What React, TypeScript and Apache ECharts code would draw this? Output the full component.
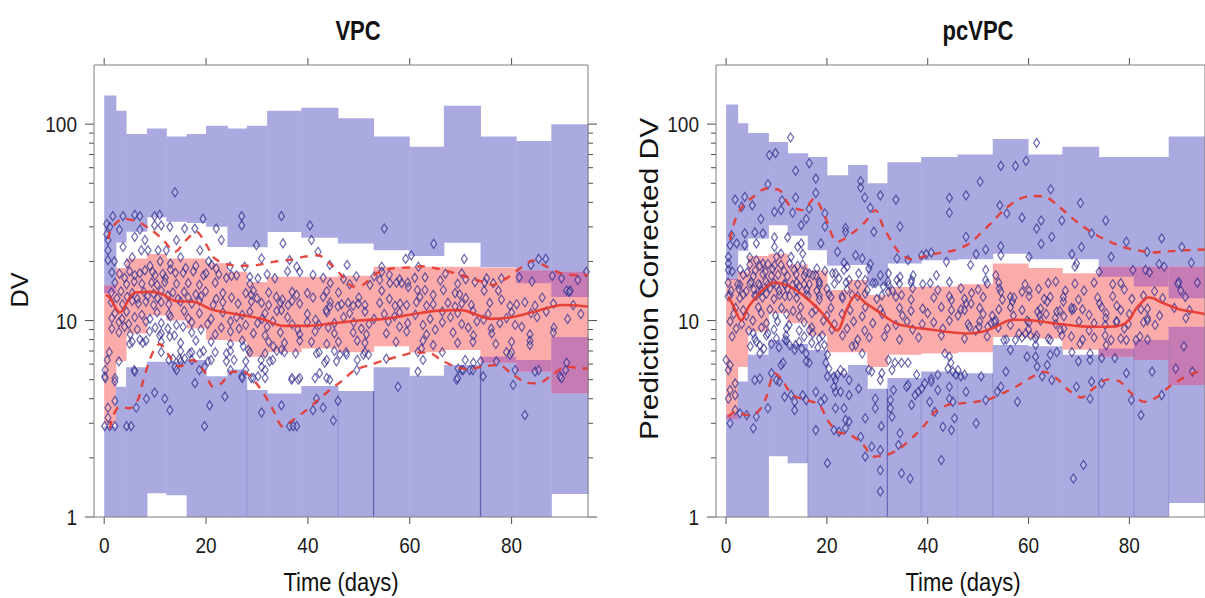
import React, { useEffect, useRef } from "react";
import * as echarts from "echarts";

// Shared axis extents (days on x, log10 DV on y)
const X_MIN = -2;
const X_MAX = 95;
const Y_MIN = 1;
const Y_MAX = 200;

const xTickValues = [0, 20, 40, 60, 80];
const yMajorTicks = [1, 10, 100];
const yMinorTicks = [2, 3, 4, 5, 6, 7, 8, 9, 20, 30, 40, 50, 60, 70, 80, 90];

// Time bins (days) of the prediction intervals
const binEdges = [0, 2.3, 4.3, 8.4, 12.2, 16.2, 20, 24.2, 28, 32, 38.7, 45.9, 52.9, 59.9, 66.7, 73.9, 80.9, 87.8, 95];

// ---- VPC: simulated confidence intervals of the percentiles, per bin ----
const vpcUpperHi = [140, 117, 89, 95, 86.5, 89, 98, 95, 98, 117, 121, 107, 86.5, 76.7, 124, 86.5, 82, 100];
const vpcUpperLo = [13.8, 25, 28.3, 33.6, 31.8, 31.4, 30, 23.7, 23.6, 28.2, 26.4, 24.7, 22.8, 21.3, 24.9, 18.7, 15.5, 13.2];
const vpcMidHi = [15.1, 18.5, 20.7, 21.8, 20.7, 20.7, 19.6, 17.7, 15.7, 16.7, 16.7, 16.9, 18.8, 18.8, 18.8, 18.6, 18.0, 17.7];
const vpcMidLo = [2.95, 6.2, 8.6, 10.6, 10.0, 9.1, 7.96, 7.8, 6.55, 6.9, 7.2, 6.9, 7.4, 6.9, 7.08, 6.1, 5.5, 4.27];
const vpcLowerHi = [2.9, 4.6, 5.78, 6.17, 6.17, 6.3, 5.2, 5.64, 4.43, 4.25, 4.65, 4.38, 5.78, 5.23, 5.94, 6.55, 6.3, 8.25];
const vpcLowerLo = [1, 1, 1, 1.32, 1.29, 1, 1, 1, 1, 1, 1, 1, 1, 1, 1, 1, 1, 1.31];

// ---- pcVPC: same bins, prediction corrected ----
const pcUpperHi = [126, 101, 90, 81, 71, 68, 55, 62, 50, 64, 68, 70, 84, 70, 76.7, 68, 68, 86.5];
const pcUpperLo = [16.1, 22.7, 26.2, 30.6, 27, 22.8, 19, 19.2, 15, 19.5, 20.3, 20.5, 21.9, 20.5, 20.5, 16.7, 14.9, 13.0];
const pcMidHi = [16.3, 17.7, 21.3, 21.9, 19.3, 18, 14.3, 16.1, 13.5, 14.8, 14.9, 15.3, 19.5, 18.5, 17.4, 18.8, 18.8, 18.8];
const pcMidLo = [3.15, 5.8, 8.8, 10.9, 9.7, 8.4, 6.9, 6.9, 5.8, 6.7, 6.8, 6.9, 8.25, 8.1, 7.1, 6.55, 6.3, 4.7];
const pcLowerHi = [3.33, 4.9, 6.7, 7.96, 7.6, 7.08, 5.4, 5.94, 4.5, 5.1, 5.5, 5.4, 7.5, 7.4, 6.7, 7.2, 7.96, 9.3];
const pcLowerLo = [1, 1, 1, 2.04, 1.88, 1, 1, 1, 1, 1, 1, 1, 1, 1, 1, 1, 1, 1.18];

// Bin edges where the lower interval shows a visible seam: [edge index, strength]
const vpcSeams = [[8, 0.15], [11, 0.2], [12, 0.65], [15, 0.65]];
const pcSeams = [[5, 0.2], [9, 0.6], [10, 0.2], [11, 0.15], [12, 0.2], [15, 0.2], [16, 0.2], [17, 0.15]];

// ---- Observed percentiles (VPC) ----
const vpcMedT = [0.3, 1, 3.1, 6, 9.5, 11.5, 13.8, 18, 21, 24, 27.5, 31, 35, 40, 45, 50, 55, 60, 65, 70, 76, 80, 85, 90, 95];
const vpcMedV = [13.5, 13.2, 11.0, 13.9, 14.0, 13.6, 12.6, 12.4, 11.4, 11.0, 10.6, 10.2, 9.4, 9.4, 9.7, 10.0, 10.2, 10.7, 11.2, 11.3, 10.2, 10.4, 11.2, 12.0, 11.8];
const vpcHiT = [0.8, 1.4, 3.7, 6.6, 9.3, 11.6, 13.9, 16.1, 18.1, 20.1, 21.7, 24.7, 27.3, 30.2, 33.2, 36.1, 39.1, 42, 44.3, 46.6, 48.9, 50.8, 53.5, 56.4, 59.4, 62.3, 65.3, 67.9, 71.2, 73.8, 76.4, 79, 81.6, 84.2, 86.9, 89.8, 93.4, 95];
const vpcHiV = [26, 29.4, 33, 31.8, 28.9, 25.7, 22.4, 25.7, 28.3, 24.2, 20.7, 19.2, 19, 19.2, 19.9, 20.3, 21.1, 21.5, 19.5, 17.0, 14.9, 15.2, 17.4, 18.4, 18.6, 18.9, 18.4, 17.7, 16.7, 15.9, 15.2, 16.4, 18.4, 20.2, 18.8, 17.4, 17.0, 17.0];
const vpcLoT = [1.1, 1.7, 3.0, 5.0, 6.6, 7.6, 8.6, 9.9, 10.9, 12.9, 14.8, 17.4, 19.7, 21.4, 23, 25.3, 27.3, 29.6, 31.5, 33.2, 35.1, 37.1, 39.7, 42, 44.3, 46.9, 49.2, 52.2, 54.8, 58.1, 61, 63.6, 66.2, 68.9, 71.5, 74.4, 77.4, 80, 82.9, 85.2, 87.9, 90.8, 93.8, 95];
const vpcLoV = [2.82, 3.24, 3.64, 3.58, 3.94, 4.89, 5.94, 7.2, 7.6, 6.55, 5.83, 6.3, 5.49, 4.6, 4.79, 5.49, 5.49, 4.89, 4.17, 3.5, 2.88, 3.12, 3.5, 3.94, 4.43, 4.98, 5.6, 5.94, 6.25, 6.6, 6.87, 6.87, 6.3, 5.83, 5.66, 5.83, 5.94, 5.38, 4.83, 4.79, 5.27, 5.83, 5.7, 5.7];

// ---- Observed percentiles (pcVPC) ----
const pcMedT = [0.5, 1.5, 3, 4.5, 6, 7.5, 9.5, 11.5, 13.5, 15.5, 17.5, 19.5, 22, 24, 25.7, 27.5, 30, 32, 34, 36.5, 39, 42, 45, 48, 51, 53.5, 56, 58.5, 61, 63.5, 66, 69.5, 73, 76, 78.5, 80, 81.3, 82.5, 83.7, 85, 86, 88, 90, 92.5, 95];
const pcMedV = [13.2, 11.8, 10.0, 11.8, 13.2, 14.5, 15.6, 15.3, 14.5, 13.3, 12.0, 10.6, 8.9, 11.5, 13.5, 12.4, 11.2, 10.3, 9.6, 9.3, 9.1, 8.9, 8.7, 8.6, 8.8, 9.3, 10.0, 10.1, 10.0, 9.8, 9.6, 9.4, 9.3, 9.3, 9.5, 10.1, 11.5, 12.4, 13.1, 12.9, 12.5, 11.9, 11.4, 11.1, 10.8];
const pcHiT = [0.8, 1.8, 3.4, 5.4, 8, 10.6, 12.6, 15.2, 17.5, 19.4, 22.1, 25, 27.6, 29.6, 31.2, 34.2, 36.8, 40.1, 42.7, 45.3, 48.3, 50.5, 52.8, 55.1, 57.8, 60.4, 63.3, 66, 68.3, 70.9, 73.5, 76.1, 78.7, 82, 84.6, 87.6, 91.2, 95];
const pcHiV = [25.7, 32.5, 38.6, 42.7, 47, 46.1, 38.6, 36.5, 41.8, 34.9, 25.2, 27.8, 31.8, 36.5, 30, 22.4, 20.5, 21.5, 22.2, 22.8, 24.7, 27.8, 31.8, 36.5, 41.1, 43.1, 42.7, 38.1, 33.8, 30, 27.2, 25.2, 23.7, 22.7, 22.2, 22.5, 22.8, 23];
const pcLoT = [0.45, 1.8, 4.1, 6.3, 8, 9.6, 10.9, 13.2, 15.9, 18.5, 20.1, 22.1, 24.7, 27, 29.3, 31.9, 34.5, 37.1, 39.4, 41.4, 44, 46.6, 49.6, 52.5, 55.5, 58.1, 60.7, 63, 65.6, 67.9, 70.5, 72.8, 75.8, 78.1, 80.4, 83, 85.6, 87.9, 90.5, 93.1, 95];
const pcLoV = [3.24, 3.43, 3.3, 3.43, 4.09, 5.4, 5.07, 4.17, 3.94, 3.72, 3.12, 2.72, 2.61, 2.37, 2.03, 2.07, 2.24, 2.56, 2.94, 3.43, 3.72, 3.79, 3.86, 4.01, 4.34, 4.7, 5.17, 5.49, 5.07, 4.43, 4.06, 4.5, 5.02, 4.89, 4.26, 3.86, 4.09, 4.6, 5.07, 5.43, 5.5];

// ---- Observations, VPC [time, DV] ----
const vpcObsUpper = [
  [13.9, 45], [1.7, 34], [3.7, 34], [6.0, 34.5], [7.0, 34], [9.9, 34], [10.9, 34.5], [19.4, 33], [27, 34], [27, 30.5], [34.8, 34], [40.4, 30.5], [55, 29.4],
  [1.1, 30], [3.0, 29], [7.0, 29], [9.9, 30.5], [11.2, 30.5], [12.9, 30], [15.8, 29.4], [17.8, 29.4], [22, 29.4], [0.5, 31], [0.5, 27.5], [6, 26.7],
  [8, 25.7], [14.2, 25.7], [23, 25.7], [0.75, 25.7], [3.7, 23.7], [0.75, 22.8], [7.3, 22.8], [8.6, 22.8], [10.6, 22.8], [12.2, 22.8], [18.8, 22.8],
  [29.9, 24.2], [35.1, 24.7], [40.7, 25.7], [42, 22.4], [64.7, 24.6], [0.75, 20.3], [30.9, 20.7], [36.4, 20.3], [59.2, 20.6], [60.3, 21.5], [70.7, 20.6],
  [83.8, 19.2], [85.3, 20.6], [86.7, 20.6], [21.1, 19.2], [22, 18.4], [24.7, 18.8], [27.6, 18.8], [37.8, 18.8], [38.4, 17.7], [44.3, 19.2], [47.7, 19.2],
  [54.5, 18.8], [54.5, 17.7], [61.7, 18.8], [70.2, 17.4], [81.5, 16.6], [89.8, 16.4], [94.7, 17.7], [75.1, 16.4], [28.6, 16.7], [30.2, 16.4], [33.5, 16.4],
  [2, 20], [4.5, 19.5], [5.5, 21], [9, 19], [11, 20], [13, 19.5], [15, 21], [16, 18.5], [18, 19], [19.5, 17], [20.5, 20], [24, 16.5], [26, 17],
  [10, 17], [12, 16.5], [14, 17.5], [6, 17], [4, 16.5], [8, 18],
  [1.5, 17.6], [3, 17.3], [5, 17.8], [7, 17.4], [9.5, 17.7], [11.5, 17.3], [13, 18.2], [15.5, 17.5], [17.5, 17.8], [20, 17.4], [22.5, 17.2], [25, 16.9],
  [32, 17.2], [36, 17.8], [41, 17.1], [43, 16.5], [49.5, 16.8], [56, 17.1], [63, 16.6], [67, 17.3],
  [47, 16.3], [53, 16.8], [58, 16.2], [61, 16.5], [66, 16.0], [71, 16.2], [78, 16.4], [84, 15.8], [88, 16.9], [93, 16.1],
];
const vpcObsCore = [
  [2.1, 15.6], [4.4, 15.3], [5.9, 15.8], [7.4, 15.4], [9.3, 15.6], [10.4, 15.2], [11.9, 15.7], [14.2, 15.4], [16.5, 15.5], [18.7, 15.2], [21.8, 15.6],
  [28.6, 15.4], [44.4, 15.5], [48.2, 15.3], [59.6, 15.6], [69.4, 15.4], [74.7, 15.6], [76.4, 15.5], [52.2, 15.2], [54.1, 16.1], [56.1, 15.5], [57.4, 15.6],
  [58.4, 15.5], [72.8, 15.7],
  [1.4, 13.9], [3.3, 14.1], [5.5, 13.8], [7.8, 14.0], [9.7, 13.7], [11.2, 14.2], [13.5, 13.9], [15.7, 14.0], [18, 13.6], [19.9, 14.1], [23.3, 13.8],
  [27.8, 13.8], [28.9, 13.5], [29.3, 14.2], [32.3, 13.9], [33.8, 13.2], [36.9, 14.0], [37.8, 13.5], [39.9, 13.8], [43.7, 14.1], [43, 13.2], [46, 13.9],
  [54.5, 14.2], [59.7, 14.8], [61.5, 14.3], [63, 14.3], [64.6, 13.5], [66.6, 14.3], [68.9, 13.8], [69.8, 13.6], [74.6, 14.2], [77.4, 14.2], [90.8, 14.2],
  [91.5, 14.2], [91.3, 14.0],
  [2.5, 13.0], [4.5, 13.2], [6.5, 12.9], [8.5, 13.3], [10.5, 13.0], [12.5, 13.4], [14.5, 12.9], [16.5, 13.1], [19, 13.3], [22, 12.9], [25, 13.1],
  [30, 13.0], [35, 12.8], [41, 13.1], [50, 13.1], [56, 12.9], [62, 13.2], [71, 13.0], [78, 12.8], [86, 13.1],
  [1.4, 12.4], [3.6, 12.1], [5.5, 12.6], [6.7, 12.2], [8.2, 12.5], [9.7, 12.0], [11.2, 12.4], [12.7, 12.1], [15, 12.5], [17.2, 12.2], [18.7, 12.6],
  [21.4, 12.0], [23.3, 12.4], [26.3, 12.2], [28.9, 12.5], [30.9, 12.3], [32.3, 12.0], [34.6, 12.3], [36.1, 12.0], [36.9, 12.6], [38.4, 12.2], [44.4, 12.4],
  [44.3, 11.8], [45.9, 11.8], [46.6, 12.1], [47.9, 12.3], [48.9, 11.9], [49.9, 12.2], [51.2, 12.0], [54.1, 12.3], [57.1, 11.9], [58.1, 12.2], [59.4, 12.0],
  [61.3, 12.4], [63.3, 11.9], [64.6, 12.1], [67.5, 12.3], [68.9, 11.8], [70.2, 12.2], [72.1, 12.0], [75.7, 12.3], [79.7, 11.9], [81, 12.1], [82.6, 12.4],
  [84.6, 11.9], [88.2, 12.2], [92.1, 12.0],
  [2.1, 10.9], [4.4, 11.1], [7.4, 10.7], [10.4, 11.0], [12.7, 10.8], [15.7, 11.2], [18.7, 10.9], [23.3, 11.0], [27.1, 10.7], [28.6, 11.1], [31.6, 10.9],
  [33.9, 11.2], [34.8, 11.3], [39.9, 10.8], [43.7, 11.0], [43.6, 11.3], [48.2, 10.9], [51.2, 11.1], [55, 10.8], [58, 11.0], [61.1, 10.7], [66.4, 11.1],
  [69.4, 10.9], [72.4, 11.2], [75.4, 10.8], [80, 11.0], [83.8, 10.9], [86.8, 11.1], [93.6, 10.8],
  [1.5, 10.3], [3.5, 10.2], [6, 10.4], [9, 10.2], [13, 10.5], [16.5, 10.3], [21, 10.2], [26, 10.4], [31, 10.2], [36, 10.4], [41.5, 10.1], [47, 10.4],
  [53, 10.2], [57, 10.5], [64, 10.2], [68, 10.4], [74.5, 10.1], [79, 10.3], [85, 10.4], [91, 10.2],
  [2.9, 9.8], [4.8, 9.6], [8.2, 9.9], [11.2, 9.7], [14.2, 9.5], [17.2, 9.8], [20.3, 9.6], [24.8, 9.9], [27.8, 9.5], [30.1, 9.7], [33.1, 9.9], [36.9, 9.6],
  [39.9, 9.8], [42.2, 9.5], [45.2, 9.7], [49, 9.8], [52, 9.6], [55.8, 9.9], [59.6, 9.7], [62.6, 9.5], [66.4, 9.8], [70.2, 9.6], [73.2, 9.9], [77.7, 9.7],
  [80.7, 9.5], [88.3, 9.2],
  [1.5, 9.1], [4, 9.3], [6.5, 9.0], [10, 9.2], [12.5, 9.1], [15.5, 9.3], [19, 9.0], [23, 9.2], [26.5, 9.1], [32, 9.3], [38, 9.0], [44, 9.2],
  [50.5, 9.1], [58, 9.3], [65, 9.0], [71.5, 9.2], [76, 9.1], [82, 9.3],
  [2.9, 8.7], [5.1, 8.5], [8.9, 8.8], [11.2, 8.6], [13.8, 8.4], [17.2, 8.7], [21.8, 8.5], [24.8, 8.8], [29.3, 8.6], [31.6, 8.4], [34.6, 8.7], [38.4, 8.5],
  [41.4, 8.8], [45.2, 8.6], [48.9, 8.7], [51.5, 8.5], [55.4, 8.6], [59.4, 8.8], [63.3, 8.5], [68.5, 8.7], [72.5, 8.4], [76.1, 8.6], [83.6, 8.5], [88.2, 8.7],
  [10.9, 8.4], [12.9, 8.3],
];
const vpcObsLower = [
  [5.0, 7.6], [5.5, 7.8], [7.0, 8.0], [7.6, 7.7], [8.2, 7.9], [11.2, 7.8], [15, 7.7], [18, 7.9], [21, 7.8], [24.8, 7.6], [27.1, 7.9], [27.3, 7.4],
  [28.3, 7.1], [32.3, 7.8], [33.2, 7.4], [35.4, 7.7], [38.4, 7.9], [40.7, 7.8], [43.7, 7.6], [46, 7.8], [49.7, 7.9], [51.2, 7.7], [57.3, 7.8], [62.6, 7.9],
  [69.4, 7.7], [72.4, 7.8], [76.9, 7.6], [80, 7.8], [64.6, 7.5], [83.6, 7.9], [83.6, 7.5],
  [1, 6.9], [11.2, 6.9], [15, 7.0], [16.8, 6.8], [17.2, 6.9], [18.8, 6.8], [19.5, 7.0], [21.8, 6.9], [24, 6.8], [24.8, 7.0], [28.6, 6.9], [31.6, 6.8],
  [33.9, 7.0], [34.8, 7.1], [35.4, 6.9], [37.6, 6.8], [41.7, 6.8], [42.2, 6.9], [45.2, 7.0], [46.3, 6.7], [47.5, 6.9], [47.6, 6.7], [50.9, 6.7], [51.2, 6.9],
  [51.9, 6.7], [61.6, 6.9], [62.3, 7.2], [66.4, 6.9], [79, 6.9], [79.7, 6.7], [80, 6.9],
  [0.6, 6.3], [2.9, 6.2], [12.7, 6.3], [13.5, 6.4], [14.8, 6.4], [15, 6.2], [15.8, 6.4], [17.2, 6.3], [20.4, 6.2], [21, 6.3], [24, 6.2], [25.5, 6.3],
  [27.8, 6.2], [30.8, 6.3], [32.5, 6.2], [33.1, 6.3], [43.3, 6.1], [43.7, 6.3], [45.6, 6.2], [49.7, 6.3], [55.4, 6.4], [62.6, 6.3], [70.9, 6.3], [72.5, 6.1],
  [73.9, 6.2], [77, 6.2], [90.8, 6.1],
  [0.2, 5.6], [5.9, 5.6], [6, 5.5], [13.9, 5.8], [14.2, 5.6], [18.7, 5.6], [19.7, 5.8], [24.8, 5.6], [27.8, 5.6], [30.9, 5.8], [31.6, 5.6], [42.3, 5.4],
  [49.6, 5.6], [61.6, 5.5], [69.5, 5.7], [70.2, 5.6], [70.5, 5.6], [71.8, 5.6], [72.4, 5.6], [80.7, 5.6], [84.6, 5.5], [85.3, 5.6], [90.6, 5.6],
  [0.1, 5.2], [0.2, 5.1], [2.1, 5.1], [2.1, 4.9], [27, 5.2], [27.1, 5.1], [28.9, 5.1], [29.3, 5.1], [30.2, 5.2], [31.6, 5.1], [36.8, 5.0], [36.9, 5.1],
  [38.1, 5.0], [38.4, 5.1], [41.4, 5.1], [43.7, 5.1], [44.3, 5.0], [69.2, 5.0], [69.4, 5.1], [74.4, 5.2], [89.5, 5.2], [89.8, 5.1], [17.8, 4.8], [80.3, 4.7],
  [57.7, 4.6], [9.9, 4.3], [2.1, 3.9], [8.3, 4.0], [11.9, 4.0], [23.7, 4.1], [41.7, 4.0], [45.9, 3.9], [0.75, 3.6], [6.3, 3.6], [12.9, 3.5], [20.7, 3.7],
  [34.8, 3.7], [41, 3.5], [43, 3.6], [30.9, 3.4], [0.75, 3.2], [45, 3.1], [82.6, 3.3], [0.1, 2.9], [1.1, 2.9], [2.1, 2.9], [4.4, 2.9], [5.3, 2.9],
  [19.7, 2.9], [36.4, 2.9], [37.1, 2.9], [37.8, 2.9],
];

// ---- Observations, pcVPC [time, prediction corrected DV] ----
const pcObsUpper = [
  [12.8, 85.5], [61.6, 80.3], [8.6, 69.6], [9.8, 71.2], [16.5, 63.2], [13.8, 57.9], [54.5, 61.3], [57.4, 61.3], [59.5, 65.1], [17.8, 52.8], [8.3, 49.4],
  [26.7, 51.2], [26.7, 47.6], [50.4, 50.9], [17.8, 44.6], [30.6, 43.4], [27.5, 42.3], [1.8, 41.3], [3.7, 42.6], [13.8, 42.3], [33.7, 41.3], [44.3, 42.1],
  [47.6, 43.4], [64.4, 46.5], [70.3, 39.7], [11.1, 40.9], [3.1, 38], [5.2, 38.6], [16.5, 37.1], [28.6, 37.5], [54.3, 38.6], [10.9, 36.5], [9.6, 35.8],
  [13.2, 35.4], [19.6, 35.1], [44.3, 35.4], [55.7, 35.1], [6.9, 32.9], [15.9, 32.9], [58.7, 33.4], [62.5, 32.3], [66.6, 32.3], [75.3, 32.3], [19.6, 30.1],
  [34.5, 30.1], [14.9, 30.6], [23.7, 29.6], [61.6, 29.4], [23.7, 28.3], [29.3, 28.3], [3.7, 27.8], [5.7, 28.1], [7.3, 27.8], [72.5, 27.8], [1.1, 27.2],
  [47.6, 26.7], [64.6, 26.7], [9.6, 26.5], [12.2, 26.5], [86.4, 26.2], [79.4, 25.2], [0.8, 24.2], [2.1, 24.7], [3.7, 24.2], [6, 24.7], [18.8, 24.7],
  [62.5, 24.6], [14.9, 24.7], [9.6, 23.7], [14.2, 23.7], [54.5, 23.9], [70.5, 23.7], [90.4, 23.7], [51.5, 23], [22.1, 22.4], [83.5, 22.4], [40.7, 22.2],
  [10.9, 21.9], [15.2, 21.9], [39.7, 21.8], [49.6, 21.8], [68.6, 21.8], [25.7, 21.5], [38.8, 21.5], [54.5, 21.5], [0.45, 21.1], [10, 21.1], [12.9, 21.1],
  [60.1, 21.1], [76.4, 21.1], [4.7, 21], [27, 20.7], [33.9, 20.7], [6, 20.3], [36.1, 20.3], [43.7, 19.9], [23.4, 19.7], [92.3, 19.7], [0.45, 19.5],
  [7.3, 19.5], [69.5, 19.5], [28.6, 19.4], [85.9, 19.4], [48.5, 19.2], [24, 18.8], [69.2, 18.8], [86.9, 18.8], [28.3, 18.4], [0.45, 18.1], [23.4, 18.1],
  [51.5, 18.1], [80.7, 18.1], [83.2, 18.1], [84, 17.6], [74, 17.7], [21.7, 17.4], [17.8, 17], [30.6, 17], [37.1, 17], [41.7, 17], [53.5, 17], [16.5, 17.4],
  [34.5, 16.7], [22.4, 16.4], [33.9, 16.1], [36.8, 16.1], [51.5, 16.1], [18.5, 15.7], [89.8, 15.7], [93.5, 15.6], [32.2, 15.2], [32.2, 14], [21.1, 17.4],
  [26.3, 17.4], [32.2, 17.4], [24.4, 16.1], [27.6, 16.1], [29.6, 15.5], [31.2, 14.9],
  [4.7, 19.3], [6.7, 19.0], [8.3, 19.4], [9.6, 19.1], [10.9, 19.2], [12.6, 19.5], [14.2, 19.0], [15.2, 19.3], [3.4, 17.1], [5.4, 16.8], [7.3, 17.2],
  [9, 16.9], [10.3, 17.1], [12.2, 16.8], [13.9, 17.2], [15.5, 16.9], [17.2, 17.0], [2.75, 15.2], [4.7, 15.4], [6.7, 15.1], [8.3, 15.3], [10, 15.0],
  [11.6, 15.4], [13.2, 15.2], [14.5, 15.0], [16.5, 15.3], [18.5, 15.1], [0.8, 13.5], [3.4, 13.6], [6, 13.4], [8, 13.7], [10.6, 13.5], [12.6, 13.3],
  [15.9, 13.6], [18.5, 13.4], [20.4, 13.6], [23, 13.3], [25, 13.5], [27.6, 13.7], [30.9, 13.4], [34.8, 13.5],
  [1.2, 17.8], [2.8, 18.2], [4.2, 17.6], [5.8, 18.0], [7.8, 17.7], [9.2, 18.3], [11.5, 17.9], [13.5, 18.1], [15.8, 17.6], [18, 18.4], [19.6, 17.9],
];
const pcObsCore = [
  [46.6, 14.6], [54.2, 14.6], [54.5, 14.0], [58.7, 14.0], [60.1, 14.2], [56.4, 13.2], [56.8, 12.5], [67.3, 14.2], [64.3, 13.2], [63.7, 12.5], [66.9, 12.5],
  [48.7, 13.8], [47.6, 12.2], [48.6, 12.2], [44.7, 12.7], [44.7, 11.3], [46.6, 11.4], [74.1, 12.2], [77.5, 11.9], [68.6, 11.3], [69, 11.5], [75.4, 10.9],
  [75.3, 10.3], [65.6, 11.1], [65.3, 10.3], [82.3, 11.4], [83.6, 10.3], [91.2, 10.3], [61.8, 11.1], [62.2, 10.6], [59.7, 10.0], [52.8, 10.6], [53.5, 10.0],
  [77.4, 9.85], [90.2, 14.2],
  [0.4, 15.6], [2.3, 15.3], [5, 15.7], [6.4, 15.4], [7.9, 15.8], [9.5, 15.5], [11.7, 15.2], [14, 15.6], [15.5, 15.3], [18.5, 15.7], [21.5, 15.4],
  [23.8, 15.6], [26.1, 15.3], [29.1, 15.5], [32.1, 15.8], [34.4, 15.4], [36.7, 15.6], [39, 15.3], [40.5, 15.5], [44.3, 15.7], [51.8, 15.4], [54.1, 15.6],
  [59.3, 15.3], [63.9, 15.5], [65.4, 15.8], [69.2, 15.4], [73, 15.6], [76.7, 15.3], [78.3, 15.5], [89.6, 15.4],
  [1, 14.2], [2.5, 14.5], [4, 14.1], [5.5, 14.4], [7, 14.2], [8.7, 14.6], [10.5, 14.2], [12.2, 14.5], [14, 14.1], [16, 14.4], [18, 14.2], [20, 14.5],
  [24, 14.4], [28, 14.3], [33, 14.2], [37, 14.6], [42, 14.3], [50, 14.4], [62, 14.5], [71, 14.2], [79, 14.4], [85, 14.1],
  [0.4, 13.3], [2.7, 13.0], [5.7, 13.4], [7.2, 13.1], [9.5, 12.9], [11.7, 13.3], [14, 13.0], [16.3, 13.4], [18.5, 12.8], [20.8, 13.2], [23.1, 13.0],
  [26.1, 13.3], [29.9, 12.9], [33.7, 13.2], [36.7, 12.8], [41.2, 13.1], [44.3, 13.3], [47.3, 12.9], [51, 13.2], [54.8, 12.8], [57.1, 13.1], [60.1, 13.3],
  [63.1, 12.9], [66.9, 13.2], [69.9, 12.8], [73.7, 13.1], [76.7, 13.3], [80.5, 12.9], [82.8, 13.4], [86.6, 13.0], [91.1, 13.2],
  [1.9, 11.6], [3.4, 11.3], [6.4, 11.7], [8.7, 11.4], [11, 11.6], [13.3, 11.2], [14.8, 11.7], [17.8, 11.4], [20.8, 11.6], [24.6, 11.3], [27.6, 11.7],
  [30.6, 11.4], [34.4, 11.6], [36.7, 11.2], [39, 11.5], [42.7, 11.7], [47.3, 11.3], [50.3, 11.6], [54.1, 11.4], [56.4, 11.7], [58.7, 11.3], [62.4, 11.5],
  [66.2, 11.2], [68.5, 11.6], [70.7, 11.4], [74.5, 11.7], [78.3, 11.3], [83.6, 11.5], [88.9, 11.6], [91.9, 11.3],
  [1.5, 10.8], [4, 10.6], [7, 10.9], [9.8, 10.6], [12, 10.8], [14.5, 10.5], [17, 10.9], [20, 10.6], [23, 10.8], [27, 10.5], [31, 10.8], [35, 10.6],
  [40, 10.9], [46, 10.6], [51, 10.8], [57, 10.6], [63.5, 10.8], [67, 10.5], [72, 10.7], [80, 10.8], [86, 10.6],
  [0.8, 9.9], [3.1, 9.6], [5.3, 10.0], [8, 9.7], [10.2, 9.9], [12.5, 9.5], [15.5, 9.8], [19.3, 10.0], [21.5, 9.6], [25.3, 9.9], [29.1, 9.7], [33.7, 9.5],
  [35.9, 9.9], [38.9, 9.6], [41.2, 9.8], [44.3, 10.0], [48, 9.6], [50.3, 9.9], [52.6, 9.7], [56.4, 9.5], [60.1, 9.8], [62.4, 10.0], [65.4, 9.6], [70, 9.9],
  [73, 9.7], [75.2, 9.5], [77.5, 9.9], [79.8, 9.6], [82.8, 9.8], [85.1, 9.5],
  [2, 9.1], [4.5, 8.9], [7, 9.2], [9.5, 9.0], [12, 9.1], [14.5, 8.9], [17, 9.2], [21, 9.0], [24, 9.1], [27.5, 8.9], [32, 9.1], [37, 9.0], [43, 9.1],
  [49.5, 8.9], [54, 9.2], [60, 9.0], [67, 9.1], [72, 8.9], [79, 9.1],
  [1.2, 8.3], [5.7, 8.1], [8, 8.4], [11.7, 8.0], [15.5, 8.3], [18.5, 8.1], [23.1, 8.4], [26.1, 8.0], [28.4, 8.2], [31.4, 8.3], [34.4, 8.0], [38.2, 8.2],
  [42.7, 8.4], [47.3, 8.1], [51.8, 8.3], [55.6, 8.0], [58.7, 8.2], [61.6, 8.4], [63.9, 8.1], [68.5, 8.3], [70.7, 8.0], [73, 8.2], [75.2, 8.4], [78.3, 8.1],
  [82.1, 8.3], [83.6, 8.0],
];
const pcObsLower = [
  [4.8, 7.4], [6, 7.8], [7.5, 7.2], [9, 7.6], [10.5, 7.3], [12, 7.9], [13.8, 7.5], [15, 7.2], [17, 7.7], [18.2, 7.3],
  [5.4, 8.6], [6.7, 7.5], [6.7, 6.8], [8.3, 8.6], [10, 8.1], [11.9, 8.4], [12.6, 7.5], [13.6, 7.1], [14.5, 7.8], [15.9, 6.8], [16.5, 6.1], [15.9, 6.2],
  [16.5, 8.95], [17.2, 8.6], [19.8, 6.1], [20.4, 5.7], [21.4, 5.2], [22.1, 5.3], [22.7, 5.6], [23.4, 5.4], [24.4, 4.98], [25, 7.4], [25.7, 7.5], [27, 6.8],
  [28.3, 5.6], [28.9, 5.5], [30.9, 5.4], [30.6, 4.98], [32.2, 6.3], [32.9, 5.6], [33.5, 6.1], [34.8, 6.1], [36.1, 6.1], [36.1, 4.7], [37.8, 5.3],
  [40.7, 5.07], [42, 5.3], [43.4, 6.8], [44, 5.7], [45, 5.5], [45.6, 5.3], [20.1, 6.7], [19.5, 7.5], [19.1, 8.4],
  [0, 6.3], [0.8, 3.0], [1.8, 3.5], [2.75, 3.37], [5.4, 2.83], [4.1, 3.3], [6, 3.24], [8.3, 3.58], [5.7, 4.98], [6.7, 5.07], [9, 5.4], [10.9, 5.94],
  [11.3, 6.1], [10, 4.98], [10.6, 4.89], [1.8, 4.79], [1.8, 4.17], [0.8, 4.43], [0.45, 4.0], [0.45, 5.6], [0.8, 5.94], [13.6, 3.86], [13.6, 3.5],
  [12.9, 4.17], [11.6, 4.09], [15.2, 4.17], [15.9, 3.94], [17.8, 4.34], [18.8, 3.86], [19.5, 4.0], [17.8, 2.77], [20.1, 1.88], [21.7, 3.58], [23.4, 3.58],
  [21.4, 2.77], [22.4, 2.72], [23.7, 3.12], [24.4, 3.06], [23.7, 2.83], [27.6, 3.18], [26.7, 2.56], [28.9, 2.28], [27.6, 2.03], [30.6, 2.19], [30.6, 1.73],
  [30.6, 1.35], [30.8, 2.9], [32.6, 3.58], [32.9, 3.24], [34.5, 2.67], [34.2, 2.33], [34.8, 1.67], [36.5, 1.57], [36.8, 3.72], [35.8, 4.6], [38.1, 4.34],
  [37.5, 4.17], [33.2, 4.43], [32.6, 3.94], [29.6, 4.0], [29.6, 3.58], [26.3, 4.5], [24.4, 4.17], [21.7, 4.34], [20.1, 5.2], [21.7, 4.98], [21.4, 4.6],
  [22.7, 4.34], [38.8, 4.5], [39.4, 4.79], [40.4, 3.86], [42, 4.43], [42.7, 1.95], [43, 2.88], [44.7, 2.77], [41.4, 3.43], [40.7, 4.89], [45.3, 3.18],
  [49.6, 3.0], [47.6, 4.34], [44.3, 4.6], [44.3, 4.0], [45, 3.86], [50.6, 5.2], [46.6, 5.2], [47.3, 5.3], [51.5, 3.94], [53.8, 4.34], [54.5, 4.6],
  [55.5, 5.5], [57.8, 3.86], [61.7, 5.83], [63.7, 5.94], [62.7, 5.2], [64.6, 4.98], [59.7, 6.55], [61.4, 6.55], [64.3, 6.7], [65.6, 6.9], [69.5, 4.6],
  [69.9, 6.2], [72.2, 6.3], [72.2, 4.0], [72.5, 4.89], [68.9, 1.57], [70.9, 1.84], [74.5, 4.79], [74.5, 6.44], [77.1, 6.44], [79.4, 5.4], [80.4, 3.94],
  [82.3, 3.3], [84.5, 5.5], [86.4, 4.17], [89.2, 5.7], [92.5, 5.5], [90.8, 7.4], [44.3, 6.55], [44.6, 6.1], [46, 5.6], [48.3, 9.3], [50.2, 9.3],
  [51.9, 9.3], [53.2, 9.85], [55.1, 7.96], [56.4, 7.1], [57.4, 7.96], [58.1, 8.6], [59.4, 8.6], [60.4, 8.4], [61.4, 8.1], [61.4, 7.5], [64.3, 7.96],
  [66.6, 8.4], [66.3, 8.95], [68.6, 6.9], [70.2, 7.6], [72.2, 6.8], [75.4, 7.5], [76.4, 7.96], [79.4, 7.96], [81.3, 7.96], [83.6, 10],
];

// ---- styling ----
const BLUE = "#abaae0";
const PINK = "#fcabab";
const PURPLE = "#c77bb5";
const RED = "#e6372d";
const INK = "#4d4d4d";
const FONT = '"Liberation Sans", Arial, Helvetica, sans-serif';

const toPairs = (t: number[], v: number[]) => t.map((x, i) => [x, v[i]]);

function bandRows(lowLo: number[], lowHi: number[], midLo: number[], midHi: number[], upLo: number[], upHi: number[]) {
  return binEdges.slice(0, -1).map((x0, i) => [x0, binEdges[i + 1], lowLo[i], lowHi[i], midLo[i], midHi[i], upLo[i], upHi[i]]);
}

function seamRows(seams: number[][], lowHi: number[]) {
  return seams.map(([k, a]) => [binEdges[k], Math.min(lowHi[k - 1], lowHi[k]), a]);
}

function renderBands(_p: any, api: any) {
  const x0 = api.value(0);
  const x1 = api.value(1);
  const lowLo = api.value(2), lowHi = api.value(3);
  const midLo = api.value(4), midHi = api.value(5);
  const upLo = api.value(6), upHi = api.value(7);
  const box = (lo: number, hi: number, fill: string) => {
    const a = api.coord([x0, hi]);
    const b = api.coord([x1, lo]);
    return {
      type: "rect",
      shape: { x: a[0], y: a[1], width: b[0] - a[0] + 0.5, height: b[1] - a[1] },
      style: { fill },
    };
  };
  const children: any[] = [box(lowLo, lowHi, BLUE), box(upLo, upHi, BLUE), box(midLo, midHi, PINK)];
  if (midLo < lowHi) children.push(box(midLo, Math.min(lowHi, midHi), PURPLE));
  if (midHi > upLo) children.push(box(Math.max(upLo, midLo), midHi, PURPLE));
  return { type: "group", children };
}

function renderSeam(_p: any, api: any) {
  const a = api.coord([api.value(0), Y_MIN]);
  const b = api.coord([api.value(0), api.value(1)]);
  return {
    type: "line",
    shape: { x1: a[0], y1: a[1], x2: b[0], y2: b[1] },
    style: { stroke: `rgba(60,60,165,${api.value(2)})`, lineWidth: 1.3 },
  };
}

// kind 0: major y tick with label, 1: minor y tick, 2: x tick with label, 3: frame
const tickRows = [
  ...yMajorTicks.map((v) => [X_MIN, v, 0]),
  ...yMinorTicks.map((v) => [X_MIN, v, 1]),
  ...xTickValues.map((t) => [t, Y_MIN, 2]),
  [X_MIN, Y_MIN, 3],
];

function renderTicks(_p: any, api: any) {
  const xv = api.value(0);
  const yv = api.value(1);
  const kind = api.value(2);
  const ink = { stroke: INK, lineWidth: 1 };
  if (kind === 3) {
    const a = api.coord([X_MIN, Y_MAX]);
    const b = api.coord([X_MAX, Y_MIN]);
    return {
      type: "rect",
      shape: { x: a[0], y: a[1], width: b[0] - a[0], height: b[1] - a[1] },
      style: { fill: "none", stroke: "#7c7c7c", lineWidth: 1 },
    };
  }
  if (kind === 2) {
    const b = api.coord([xv, Y_MIN]);
    const t = api.coord([xv, Y_MAX]);
    return {
      type: "group",
      children: [
        { type: "line", shape: { x1: b[0], y1: b[1], x2: b[0], y2: b[1] + 7 }, style: ink },
        { type: "line", shape: { x1: t[0], y1: t[1], x2: t[0], y2: t[1] - 7 }, style: ink },
        {
          type: "text",
          x: b[0],
          y: b[1] + 28,
          scaleY: 1.15,
          style: { text: String(xv), font: `19px ${FONT}`, fill: "#1c1c1c", textAlign: "center", textVerticalAlign: "middle", align: "center", verticalAlign: "middle" },
        },
      ],
    };
  }
  const l = api.coord([X_MIN, yv]);
  const r = api.coord([X_MAX, yv]);
  const len = kind === 0 ? 9 : 5;
  const children: any[] = [
    { type: "line", shape: { x1: l[0] - len, y1: l[1], x2: l[0], y2: l[1] }, style: ink },
    { type: "line", shape: { x1: r[0], y1: r[1], x2: r[0] + len, y2: r[1] }, style: ink },
  ];
  if (kind === 0) {
    children.push({
      type: "text",
      x: l[0] - 17,
      y: l[1],
      scaleY: 1.2,
      style: { text: String(yv), font: `19px ${FONT}`, fill: "#1c1c1c", textAlign: "right", textVerticalAlign: "middle", align: "right", verticalAlign: "middle" },
    });
  }
  return { type: "group", children };
}

function panelSeries(idx: number, bands: any[], seams: any[], obs: number[][], med: number[][], hi: number[][], lo: number[][]) {
  const axes = { xAxisIndex: idx, yAxisIndex: idx };
  const dashed = { color: RED, width: 2.4, type: [8, 7] as any, opacity: 0.9 };
  return [
    {
      type: "custom", ...axes, z: 1, silent: true, renderItem: renderBands,
      dimensions: ["x0", "x1", "a", "b", "c", "d", "e", "f"],
      encode: { x: [0, 1], y: [2, 3, 4, 5, 6, 7] },
      data: bands,
    },
    { type: "custom", ...axes, z: 1.5, silent: true, renderItem: renderSeam, data: seams },
    {
      type: "scatter", ...axes, z: 3, silent: true, symbol: "diamond", symbolSize: [6, 9],
      itemStyle: { color: "rgba(255,255,255,0.2)", borderColor: "rgba(38,38,140,0.85)", borderWidth: 1.3 },
      data: obs,
    },
    { type: "line", ...axes, z: 4, silent: true, showSymbol: false, smooth: 0.3, lineStyle: { color: RED, width: 2.6, opacity: 0.9 }, data: med },
    { type: "line", ...axes, z: 4, silent: true, showSymbol: false, smooth: 0.3, lineStyle: dashed, data: hi },
    { type: "line", ...axes, z: 4, silent: true, showSymbol: false, smooth: 0.3, lineStyle: dashed, data: lo },
    { type: "custom", ...axes, z: 5, silent: true, renderItem: renderTicks, data: tickRows },
  ];
}

const titleText = (text: string, x: number) => ({
  type: "text", x, y: 30, scaleY: 1.25,
  style: { text, font: `bold 22px ${FONT}`, fill: "#111", textAlign: "center", textVerticalAlign: "middle", align: "center", verticalAlign: "middle" },
});
const xName = (x: number) => ({
  type: "text", x, y: 582, scaleY: 1.15,
  style: { text: "Time (days)", font: `22px ${FONT}`, fill: "#111", textAlign: "center", textVerticalAlign: "middle", align: "center", verticalAlign: "middle" },
});
const yName = (text: string, x: number, y: number, size: number, stretch: number) => ({
  type: "text", x, y, rotation: Math.PI / 2, scaleX: stretch,
  style: { text, font: `${size}px ${FONT}`, fill: "#111", textAlign: "center", textVerticalAlign: "middle", align: "center", verticalAlign: "middle" },
});

const option = {
  animation: false,
  backgroundColor: "#ffffff",
  grid: [
    { left: 94, top: 65, width: 494, height: 452 },
    { left: 716, top: 65, width: 494, height: 452 },
  ],
  xAxis: [0, 1].map((i) => ({ type: "value", gridIndex: i, min: X_MIN, max: X_MAX, show: false })),
  yAxis: [0, 1].map((i) => ({ type: "log", logBase: 10, gridIndex: i, min: Y_MIN, max: Y_MAX, show: false })),
  series: [
    ...panelSeries(
      0,
      bandRows(vpcLowerLo, vpcLowerHi, vpcMidLo, vpcMidHi, vpcUpperLo, vpcUpperHi),
      seamRows(vpcSeams, vpcLowerHi),
      [...vpcObsUpper, ...vpcObsCore, ...vpcObsLower],
      toPairs(vpcMedT, vpcMedV),
      toPairs(vpcHiT, vpcHiV),
      toPairs(vpcLoT, vpcLoV)
    ),
    ...panelSeries(
      1,
      bandRows(pcLowerLo, pcLowerHi, pcMidLo, pcMidHi, pcUpperLo, pcUpperHi),
      seamRows(pcSeams, pcLowerHi),
      [...pcObsUpper, ...pcObsCore, ...pcObsLower],
      toPairs(pcMedT, pcMedV),
      toPairs(pcHiT, pcHiV),
      toPairs(pcLoT, pcLoV)
    ),
  ],
  graphic: [
    titleText("VPC", 358),
    titleText("pcVPC", 978),
    xName(341),
    xName(963),
    yName("DV", 20, 290, 24, 1.05),
    yName("Prediction Corrected DV", 649, 279, 26, 1.15),
  ],
};

export default function App() {
  const ref = useRef<HTMLDivElement>(null);
  useEffect(() => {
    document.body.style.margin = "0";
    document.body.style.overflow = "hidden";
    const chart = echarts.init(ref.current as HTMLDivElement, null, { renderer: "svg" });
    chart.setOption(option as any);
    return () => chart.dispose();
  }, []);
  return <div ref={ref} style={{ width: 1205, height: 598 }} />;
}
